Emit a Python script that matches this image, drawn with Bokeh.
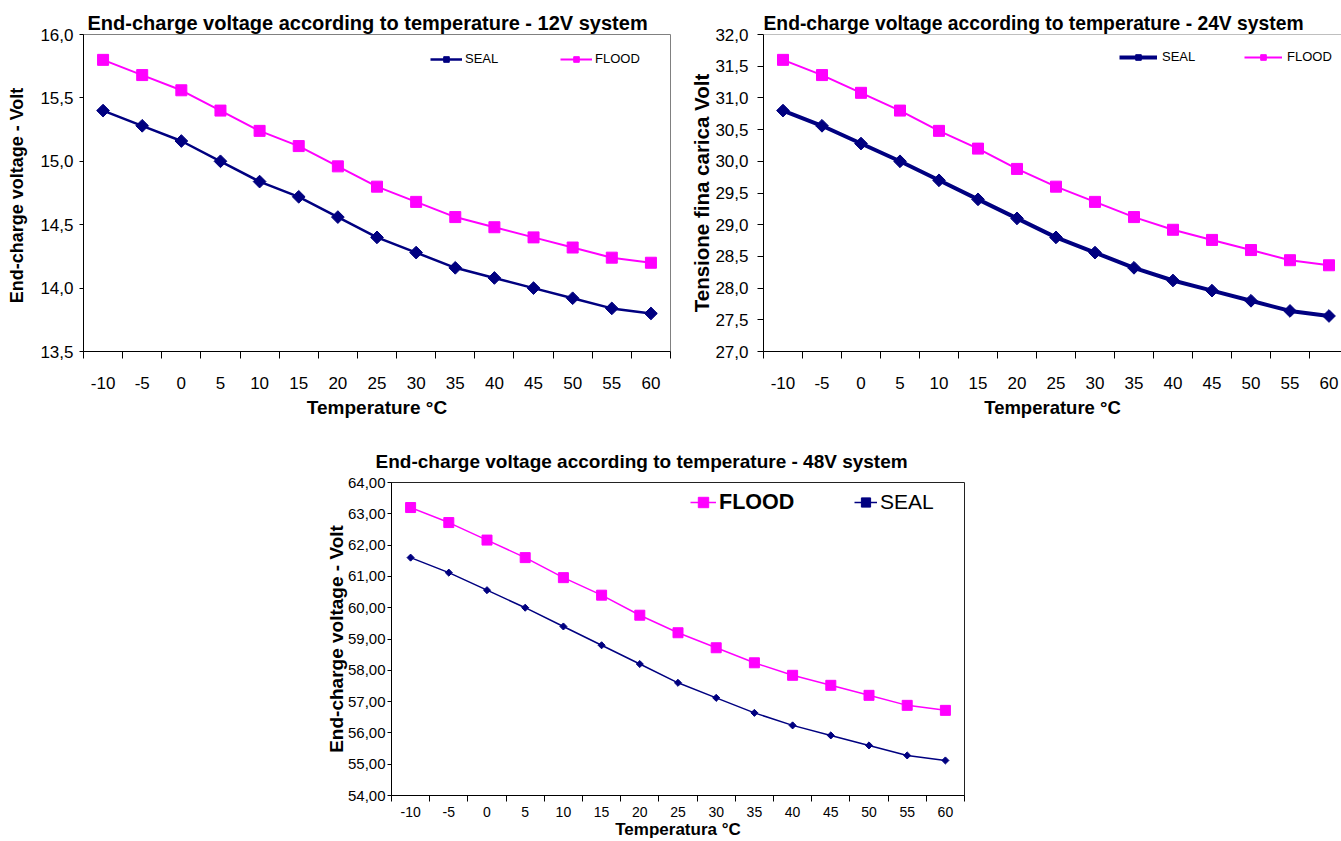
import math
from bokeh.plotting import figure
from bokeh.models import FixedTicker, Legend, LegendItem, Range1d, Spacer, Span
from bokeh.layouts import row, column
from bokeh.embed import file_html
from bokeh.resources import INLINE

# ---------------- data ----------------
temps = [-10, -5, 0, 5, 10, 15, 20, 25, 30, 35, 40, 45, 50, 55, 60]

seal_12 = [15.40, 15.28, 15.16, 15.00, 14.84, 14.72, 14.56, 14.40, 14.28, 14.16, 14.08, 14.00, 13.92, 13.84, 13.80]
flood_12 = [15.80, 15.68, 15.56, 15.40, 15.24, 15.12, 14.96, 14.80, 14.68, 14.56, 14.48, 14.40, 14.32, 14.24, 14.20]

seal_24 = [30.80, 30.56, 30.28, 30.00, 29.70, 29.40, 29.10, 28.80, 28.56, 28.32, 28.12, 27.96, 27.80, 27.64, 27.56]
flood_24 = [31.60, 31.36, 31.08, 30.80, 30.48, 30.20, 29.88, 29.60, 29.36, 29.12, 28.92, 28.76, 28.60, 28.44, 28.36]

seal_48 = [61.60, 61.12, 60.56, 60.00, 59.40, 58.80, 58.20, 57.60, 57.12, 56.64, 56.24, 55.92, 55.60, 55.28, 55.12]
flood_48 = [63.20, 62.72, 62.16, 61.60, 60.96, 60.40, 59.76, 59.20, 58.72, 58.24, 57.84, 57.52, 57.20, 56.88, 56.72]

y_ticks_12 = [13.5, 14.0, 14.5, 15.0, 15.5, 16.0]
y_labels_12 = ["13,5", "14,0", "14,5", "15,0", "15,5", "16,0"]
y_ticks_24 = [27.0, 27.5, 28.0, 28.5, 29.0, 29.5, 30.0, 30.5, 31.0, 31.5, 32.0]
y_labels_24 = ["27,0", "27,5", "28,0", "28,5", "29,0", "29,5", "30,0", "30,5", "31,0", "31,5", "32,0"]
y_ticks_48 = [54, 55, 56, 57, 58, 59, 60, 61, 62, 63, 64]
y_labels_48 = ["54,00", "55,00", "56,00", "57,00", "58,00", "59,00", "60,00", "61,00", "62,00", "63,00", "64,00"]

title_12 = "End-charge voltage according to temperature - 12V system"
title_24 = "End-charge voltage according to temperature - 24V system"
title_48 = "End-charge voltage according to  temperature - 48V system"

FONT = "Liberation Sans"
NAVY = "#000080"
MAGENTA = "#FF00FF"
INK = "#000000"

idx = list(range(len(temps)))
x_labels = {i: str(t) for i, t in zip(idx, temps)}


def base_chart(width, height, borders, x_end, y_ticks, y_labels, title, title_size,
               title_offset, title_standoff, xlab, ylab, x_tick_size, y_tick_size,
               xlab_size, ylab_size, y_tick_out, y_standoff, ylab_standoff,
               x_tick_out, x_standoff, xlab_standoff, outline):
    p = figure(width=width, height=height, output_backend="svg", toolbar_location=None,
               x_range=Range1d(-0.5, x_end), y_range=Range1d(y_ticks[0], y_ticks[-1]),
               min_border_left=borders[0], min_border_right=borders[1],
               min_border_top=borders[2], min_border_bottom=borders[3])
    p.title.text = title
    p.title.text_font = FONT
    p.title.text_font_size = title_size
    p.title.text_font_style = "bold"
    p.title.text_color = INK
    p.title.align = "left"
    p.title.offset = title_offset
    p.title.standoff = title_standoff
    p.grid.visible = False
    p.outline_line_color = outline
    p.background_fill_color = "white"
    p.border_fill_color = "white"

    xa = p.xaxis[0]
    xa.ticker = FixedTicker(ticks=idx, minor_ticks=[i - 0.5 for i in range(len(idx) + 1)])
    xa.major_label_overrides = x_labels
    xa.major_tick_line_color = None
    xa.major_tick_out = 0
    xa.major_tick_in = 0
    xa.minor_tick_line_color = INK
    xa.minor_tick_out = x_tick_out
    xa.minor_tick_in = 0
    xa.major_label_standoff = x_standoff
    xa.major_label_text_font = FONT
    xa.major_label_text_font_size = x_tick_size
    xa.major_label_text_color = INK
    xa.axis_label = xlab
    xa.axis_label_text_font = FONT
    xa.axis_label_text_font_size = xlab_size
    xa.axis_label_text_font_style = "bold"
    xa.axis_label_text_color = INK
    xa.axis_label_standoff = xlab_standoff
    xa.axis_line_color = INK

    ya = p.yaxis[0]
    ya.ticker = FixedTicker(ticks=y_ticks, minor_ticks=[])
    ya.major_label_overrides = {t: l for t, l in zip(y_ticks, y_labels)}
    ya.major_tick_out = y_tick_out
    ya.major_tick_in = 0
    ya.major_tick_line_color = INK
    ya.minor_tick_line_color = None
    ya.major_label_standoff = y_standoff
    ya.major_label_text_font = FONT
    ya.major_label_text_font_size = y_tick_size
    ya.major_label_text_color = INK
    ya.axis_label = ylab
    ya.axis_label_text_font = FONT
    ya.axis_label_text_font_size = ylab_size
    ya.axis_label_text_font_style = "bold"
    ya.axis_label_text_color = INK
    ya.axis_label_standoff = ylab_standoff
    ya.axis_line_color = INK
    return p


def add_series(p, values, color, marker, size, lw, angle=0.0):
    ln = p.line(idx, values, line_color=color, line_width=lw)
    sc = p.scatter(idx, values, marker=marker, size=size, angle=angle,
                   fill_color=color, line_color=color)
    return ln, sc


# ---------------- chart 1 (12V) ----------------
p1 = base_chart(682, 420, (83, 12, 34, 66), 14.5, y_ticks_12, y_labels_12, title_12, "20px",
                4, 2, "Temperature °C", "End-charge voltage -  Volt",
                "17px", "17px", "19px", "18px",
                4, 6, 10, 7, 18, 5, "#808080")
s1 = add_series(p1, seal_12, NAVY, "square", 9, 2.5, math.pi / 4)
f1 = add_series(p1, flood_12, MAGENTA, "square", 11, 2)
leg1 = Legend(items=[LegendItem(label="SEAL", renderers=list(s1)),
                     LegendItem(label="FLOOD", renderers=list(f1))],
              location=(347, 285), orientation="horizontal",
              border_line_color=None, background_fill_alpha=0, padding=0, margin=0,
              spacing=0, glyph_width=32, glyph_height=14, label_height=14,
              label_width=95, label_standoff=3,
              label_text_font=FONT, label_text_font_size="13px", label_text_color=INK)
p1.add_layout(leg1)

# ---------------- chart 2 (24V) ----------------
x_end_24 = -0.5 + 578 / 39.0
p2 = base_chart(659, 420, (81, 0, 34, 67), x_end_24, y_ticks_24, y_labels_24, title_24, "19.3px",
                0, 2, "Temperature °C", "Tensione fina carica Volt",
                "17px", "17px", "18.5px", "20.5px",
                6, 9, -1, 7, 18, 5, None)
p2.add_layout(Span(location=y_ticks_24[-1], dimension="width", line_color="#808080", line_width=1))
s2 = add_series(p2, seal_24, NAVY, "square", 9, 4, math.pi / 4)
f2 = add_series(p2, flood_24, MAGENTA, "square", 11, 2)
leg2 = Legend(items=[LegendItem(label="SEAL", renderers=list(s2)),
                     LegendItem(label="FLOOD", renderers=list(f2))],
              location=(356, 287), orientation="horizontal",
              border_line_color=None, background_fill_alpha=0, padding=0, margin=0,
              spacing=0, glyph_width=38, glyph_height=14, label_height=14,
              label_width=82, label_standoff=5,
              label_text_font=FONT, label_text_font_size="13px", label_text_color=INK)
p2.add_layout(leg2)

# ---------------- chart 3 (48V) ----------------
p3 = base_chart(659, 421, (64, 17, 62, 43), 14.5, y_ticks_48, y_labels_48, title_48, "19px",
                -16, 22, "Temperatura °C", "End-charge voltage - Volt",
                "14px", "15px", "17px", "19px",
                4, 2, -2, 6, 5, 0, "#222222")
s3 = add_series(p3, seal_48, NAVY, "square", 5, 1.5, math.pi / 4)
f3 = add_series(p3, flood_48, MAGENTA, "square", 10, 1.5)
leg3a = Legend(items=[LegendItem(label="FLOOD", renderers=list(f3))],
               location=(299, 280), orientation="horizontal",
               border_line_color=None, background_fill_alpha=0, padding=0, margin=0,
               glyph_width=26, glyph_height=26, label_height=26, label_standoff=3,
               label_text_font=FONT, label_text_font_size="21.5px", label_text_font_style="bold",
               label_text_color=INK)
leg3b = Legend(items=[LegendItem(label="SEAL", renderers=list(s3))],
               location=(463, 280), orientation="horizontal",
               border_line_color=None, background_fill_alpha=0, padding=0, margin=0,
               glyph_width=23, glyph_height=26, label_height=26, label_standoff=3,
               label_text_font=FONT, label_text_font_size="21px", label_text_color=INK)
p3.add_layout(leg3a)
p3.add_layout(leg3b)

layout = column(row(p1, p2), row(Spacer(width=322, height=421), p3))

open("out.html", "w").write(file_html(layout, INLINE))
